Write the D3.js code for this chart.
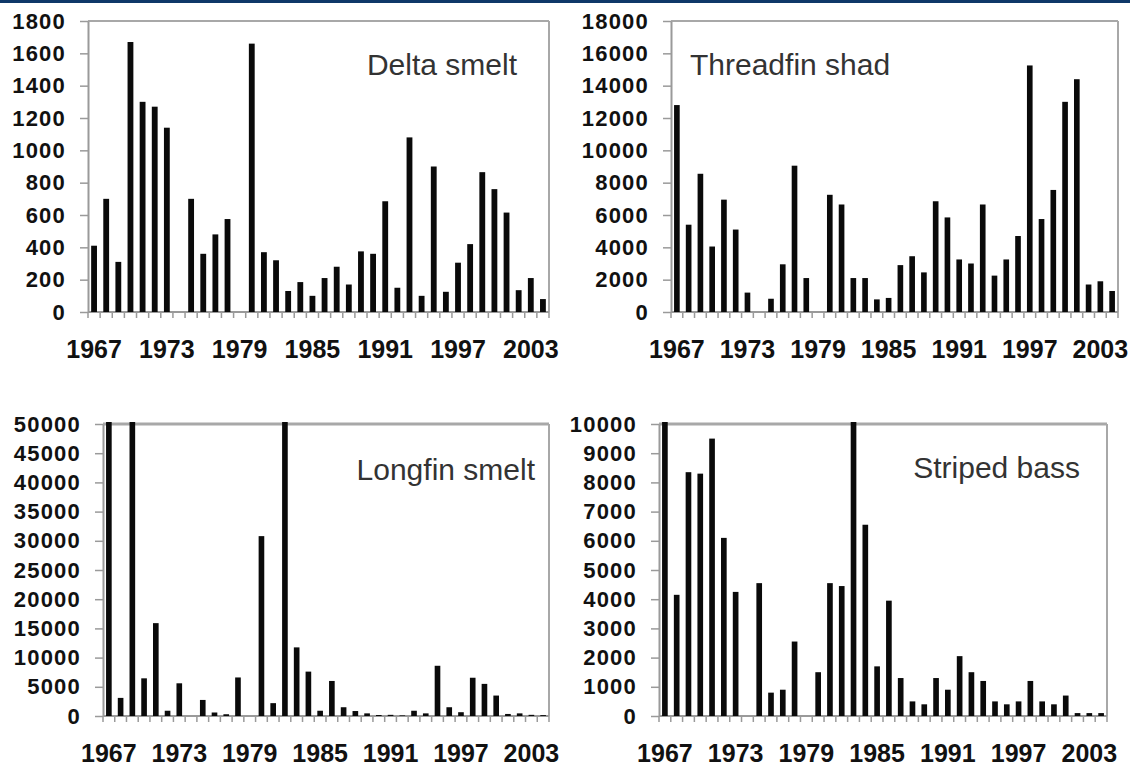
<!DOCTYPE html>
<html>
<head>
<meta charset="utf-8">
<script src="https://cdn.jsdelivr.net/npm/d3@7"></script>
<style>
  html, body { margin: 0; padding: 0; background: #fff; }
  svg { display: block; }
</style>
</head>
<body>
<div id="vis"></div>
<script>
// categories: survey years (no survey in 1974 and 1979)
const years = [1967, 1968, 1969, 1970, 1971, 1972, 1973, 1974, 1975, 1976,
               1977, 1978, 1979, 1980, 1981, 1982, 1983, 1984, 1985, 1986,
               1987, 1988, 1989, 1990, 1991, 1992, 1993, 1994, 1995, 1996,
               1997, 1998, 1999, 2000, 2001, 2002, 2003, 2004]
const yearLabels = [1967, 1973, 1979, 1985, 1991, 1997, 2003]

// abundance indices (null = no survey)
const deltaSmelt = [410, 700, 310, 1670, 1300, 1270, 1140, null, 700, 360,
                    480, 575, null, 1660, 370, 320, 130, 185, 100, 210,
                    280, 170, 375, 360, 685, 150, 1080, 100, 900, 125,
                    305, 420, 865, 760, 615, 135, 210, 80]
const threadfinShad = [12800, 5400, 8550, 4050, 6950, 5100, 1200, null, 820, 2950,
                       9050, 2100, null, 7250, 6650, 2100, 2100, 780, 870, 2900,
                       3450, 2450, 6850, 5850, 3250, 3000, 6650, 2250, 3250, 4700,
                       15250, 5750, 7550, 13000, 14400, 1700, 1900, 1300]
// longfin 1967, 1969, 1982 run off the top of the axis
const longfinSmelt = [50000, 3100, 50000, 6450, 15900, 900, 5600, null, 2750, 600,
                      300, 6600, null, 30800, 2200, 50000, 11750, 7600, 900, 6000,
                      1500, 850, 450, 170, 200, 100, 900, 450, 8600, 1500,
                      650, 6550, 5500, 3500, 350, 450, 200, 150]
// striped bass 1967, 1983 run off the top of the axis
const stripedBass = [10000, 4150, 8350, 8300, 9500, 6100, 4250, null, 4550, 800,
                     900, 2550, null, 1500, 4550, 4450, 10000, 6550, 1700, 3950,
                     1300, 500, 400, 1300, 900, 2050, 1500, 1200, 500, 400,
                     500, 1200, 500, 400, 700, 100, 100, 100]

const panels = [
  { name: "Delta smelt", values: deltaSmelt, max: 1800, step: 200,
    left: 88, right: 549, top: 21, bottom: 312, titleX: 517, titleY: 75, anchor: "end" },
  { name: "Threadfin shad", values: threadfinShad, max: 18000, step: 2000,
    left: 671, right: 1118, top: 21, bottom: 312, titleX: 690, titleY: 75, anchor: "start" },
  { name: "Longfin smelt", values: longfinSmelt, max: 50000, step: 5000,
    left: 103, right: 549, top: 424, bottom: 716, titleX: 535, titleY: 480, anchor: "end" },
  { name: "Striped bass", values: stripedBass, max: 10000, step: 1000,
    left: 659, right: 1107, top: 424, bottom: 716, titleX: 1080, titleY: 478, anchor: "end" }
]

var svg = d3.select("#vis")
  .append("svg")
  .attr("width", 1130)
  .attr("height", 771)
  .style("font-family", "'Liberation Sans', Arial, sans-serif");

// navy strip along the top edge
svg.append("rect")
  .attr("x", 0).attr("y", 0)
  .attr("width", 1130).attr("height", 3)
  .attr("fill", "#0e3868");

panels.forEach(function (p, pi) {
  var g = svg.append("g");

  var x = d3.scaleBand()
    .domain(years)
    .range([p.left, p.right])
    .paddingInner(0.52)
    .paddingOuter(0.26);

  var ticks = d3.range(0, p.max + p.step / 2, p.step);
  var y = d3.scaleLinear()
    .domain([0, p.max])
    .range([p.bottom, p.top])
    .clamp(true);

  // frame: top and right edges
  g.append("line")
    .attr("x1", p.left).attr("x2", p.right)
    .attr("y1", p.top).attr("y2", p.top)
    .attr("stroke", "#a8a8a8")
    .attr("stroke-width", pi < 2 ? 2 : 3);
  g.append("line")
    .attr("x1", p.right).attr("x2", p.right)
    .attr("y1", p.top).attr("y2", p.bottom)
    .attr("stroke", "#a8a8a8")
    .attr("stroke-width", 2);

  // y axis
  var yAxis = g.append("g")
    .attr("transform", "translate(" + p.left + ",0)")
    .call(d3.axisLeft(y).tickValues(ticks).tickFormat(d3.format("d"))
            .tickSize(8).tickSizeOuter(0).tickPadding(14));
  yAxis.select(".domain").attr("stroke", "#9a9a9a").attr("stroke-width", 2);
  yAxis.selectAll(".tick line").attr("stroke", "#9a9a9a").attr("stroke-width", 1.5);
  yAxis.selectAll("text")
    .attr("fill", "#111")
    .style("font-size", "22px")
    .style("font-weight", "bold")
    .style("letter-spacing", "1.2px");

  // x axis baseline + tick marks between categories
  var half = (x.step() - x.bandwidth()) / 2;
  var bounds = years.map(function (d) { return x(d) - half; });
  bounds.push(x(years[years.length - 1]) + x.bandwidth() + half);

  g.append("line")
    .attr("x1", p.left).attr("x2", p.right)
    .attr("y1", p.bottom).attr("y2", p.bottom)
    .attr("stroke", "#9a9a9a")
    .attr("stroke-width", 2);
  g.append("g")
    .selectAll("line")
    .data(bounds)
    .enter()
    .append("line")
      .attr("x1", d => d).attr("x2", d => d)
      .attr("y1", p.bottom).attr("y2", p.bottom + 6)
      .attr("stroke", "#9a9a9a")
      .attr("stroke-width", 1.5);

  // year labels every 6 years
  var xAxis = g.append("g")
    .attr("transform", "translate(0," + p.bottom + ")")
    .call(d3.axisBottom(x).tickValues(yearLabels).tickSize(0).tickPadding(28));
  xAxis.select(".domain").remove();
  xAxis.selectAll("text")
    .attr("fill", "#111")
    .style("font-size", "25px")
    .style("font-weight", "bold");

  // bars
  g.append("g")
    .selectAll("rect")
    .data(years.map(function (yr, i) { return { year: yr, value: p.values[i] }; })
                .filter(d => d.value != null))
    .enter()
    .append("rect")
      .attr("x", d => x(d.year))
      .attr("width", x.bandwidth())
      .attr("y", d => y(d.value) - (d.value >= p.max ? 2 : 0))
      .attr("height", d => p.bottom - y(d.value) + (d.value >= p.max ? 2 : 0))
      .attr("fill", "#0a0a0a");

  // species name
  g.append("text")
    .attr("x", p.titleX)
    .attr("y", p.titleY)
    .attr("text-anchor", p.anchor)
    .attr("fill", "#333")
    .style("font-size", "30px")
    .text(p.name);
});
</script>
</body>
</html>
